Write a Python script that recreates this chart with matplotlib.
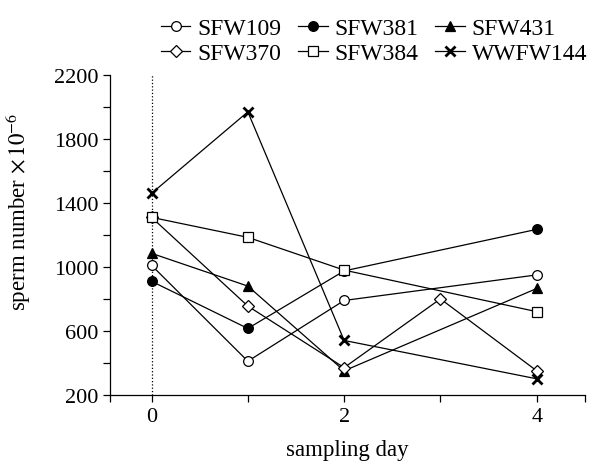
import matplotlib
matplotlib.use('Agg')
import matplotlib.pyplot as plt

plt.rcParams['font.family'] = 'serif'
plt.rcParams['font.serif'] = ['Liberation Serif', 'DejaVu Serif']
plt.rcParams['mathtext.fontset'] = 'stix'

# data
days_4 = [0, 1, 2, 4]
days_5 = [0, 1, 2, 3, 4]
sfw109 = [1010, 410, 790, 950]
sfw381 = [910, 615, 975, 1235]
sfw431 = [1085, 880, 350, 865]
sfw370 = [1310, 755, 370, 800, 350]
sfw384 = [1310, 1185, 980, 720]
wwfw144 = [1460, 1970, 540, 300]

y_major = [200, 600, 1000, 1400, 1800, 2200]
y_minor = [400, 800, 1200, 1600, 2000]
x_major = [0, 2, 4]

fig = plt.figure(figsize=(5.89, 4.64), dpi=100)
ax = fig.add_axes([0.187, 0.147, 0.806, 0.689])

ax.axvline(0, color='black', linestyle=':', linewidth=0.9, zorder=1)

kw = dict(color='black', linewidth=0.9, markersize=7, markeredgewidth=0.9, zorder=3)
l1, = ax.plot(days_4, sfw109, marker='o', markerfacecolor='white', label='SFW109', **kw)
l2, = ax.plot(days_4, sfw381, marker='o', markerfacecolor='black', label='SFW381', **kw)
l3, = ax.plot(days_4, sfw431, marker='^', markerfacecolor='black', label='SFW431', **kw)
l4, = ax.plot(days_5, sfw370, marker='D', markerfacecolor='white', label='SFW370',
              color='black', linewidth=0.9, markersize=6, markeredgewidth=0.9, zorder=3)
l5, = ax.plot(days_4, sfw384, marker='s', markerfacecolor='white', label='SFW384',
              color='black', linewidth=0.9, markersize=6.5, markeredgewidth=0.9, zorder=3)
l6, = ax.plot(days_4, wwfw144, marker='x', label='WWFW144', color='black', linewidth=0.9,
              markersize=7, markeredgewidth=2, zorder=3)

ax.set_xlim(-0.43, 4.5)
ax.set_ylim(200, 2200)
ax.set_xticks(x_major)
ax.set_xticks([-0.43, 1, 3, 4.5], minor=True)
ax.set_yticks(y_major)
ax.set_yticks(y_minor, minor=True)
ax.tick_params(which='both', direction='out', length=5, width=0.9, labelsize=16)
for s in ['top', 'right']:
    ax.spines[s].set_visible(False)
for s in ['left', 'bottom']:
    ax.spines[s].set_linewidth(0.9)

ax.set_xlabel('sampling day', fontsize=16.5, labelpad=10)
ax.set_ylabel(r'sperm number $\times\,10^{-6}$', fontsize=16.5)
ax.yaxis.set_label_coords(-0.162, 0.575)

handles = [l1, l4, l2, l5, l3, l6]
ax.legend(handles=handles, labels=[h.get_label() for h in handles], ncol=3,
          loc='lower right', bbox_to_anchor=(1.005, 1.035), frameon=False, fontsize=17,
          handlelength=1.25, handletextpad=0.3, columnspacing=0.7, labelspacing=0.15,
          borderaxespad=0, borderpad=0)

fig.savefig('out.png', dpi=100)
